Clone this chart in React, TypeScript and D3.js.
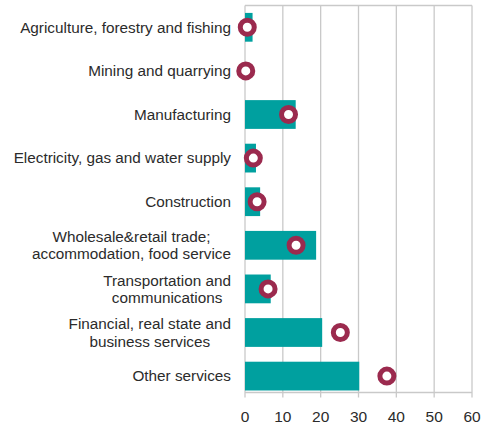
import { useEffect, useRef } from 'react';
import * as d3 from 'd3';

const categories = [
  'Agriculture, forestry and fishing',
  'Mining and quarrying',
  'Manufacturing',
  'Electricity, gas and water supply',
  'Construction',
  'Wholesale&retail trade;\naccommodation, food service',
  'Transportation and\ncommunications',
  'Financial, real state and\nbusiness services',
  'Other services',
];

// bars (teal) and markers (crimson rings)
const barValues = [2.0, 0, 13.4, 2.9, 4.0, 18.8, 6.8, 20.4, 30.2];
const markerValues = [0.6, 0.2, 11.5, 2.2, 3.2, 13.5, 6.1, 25.2, 37.5];

const xTicks = [0, 10, 20, 30, 40, 50, 60];

const W = 485;
const H = 428;
const plot = { left: 245, right: 472, top: 5.5, bottom: 392.5 };

export default function App() {
  const svgRef = useRef<SVGSVGElement>(null);

  useEffect(() => {
    if (!svgRef.current) return;
    const svg = d3.select(svgRef.current);
    svg.selectAll('*').remove();

    const x = d3.scaleLinear().domain([0, 60]).range([plot.left, plot.right]);
    const y = d3
      .scaleBand<string>()
      .domain(categories)
      .range([5.5, 397.9])
      .paddingInner(0.34)
      .paddingOuter(0.17);

    const grid = '#c9c9c9';
    const textColor = '#2b2b2b';
    const g = svg.append('g');

    // vertical gridlines + ticks
    g.selectAll('.grid')
      .data(xTicks)
      .enter()
      .append('line')
      .attr('x1', d => x(d))
      .attr('x2', d => x(d))
      .attr('y1', plot.top)
      .attr('y2', plot.bottom + 5)
      .style('stroke', grid)
      .style('stroke-width', '1.3px');

    // top + bottom lines
    [plot.top, plot.bottom].forEach(yy => {
      g.append('line')
        .attr('x1', plot.left)
        .attr('x2', plot.right)
        .attr('y1', yy)
        .attr('y2', yy)
        .style('stroke', grid)
        .style('stroke-width', '1.3px');
    });

    // bars
    g.selectAll('.bar')
      .data(categories)
      .enter()
      .append('rect')
      .attr('x', x(0))
      .attr('y', d => y(d)!)
      .attr('width', (_, i) => x(barValues[i]) - x(0))
      .attr('height', y.bandwidth())
      .style('fill', '#00a09f');

    // markers
    g.selectAll('.marker')
      .data(categories)
      .enter()
      .append('circle')
      .attr('cx', (_, i) => x(markerValues[i]))
      .attr('cy', d => y(d)! + y.bandwidth() / 2)
      .attr('r', 7)
      .style('fill', '#fff')
      .style('stroke', '#9b2a4e')
      .style('stroke-width', '5px');

    // x tick labels
    g.selectAll('.tick-label')
      .data(xTicks)
      .enter()
      .append('text')
      .attr('x', d => x(d))
      .attr('y', 417)
      .attr('dy', '0.35em')
      .style('text-anchor', 'middle')
      .style('font-size', '15.5px')
      .style('fill', textColor)
      .text(d => d);

    // category labels: block right-aligned, lines centered within block
    const labelRight = 231;
    const lineH = 17.5;
    categories.forEach(c => {
      const lines = c.split('\n');
      const cy = y(c)! + y.bandwidth() / 2;
      const t = g
        .append('text')
        .style('font-size', '15.3px')
        .style('fill', textColor)
        .style('text-anchor', lines.length > 1 ? 'middle' : 'end');
      lines.forEach((ln, k) => {
        t.append('tspan')
          .attr('x', labelRight)
          .attr('y', cy + (k - (lines.length - 1) / 2) * lineH)
          .attr('dy', '0.35em')
          .text(ln);
      });
      if (lines.length > 1) {
        let maxW = 0;
        t.selectAll<SVGTSpanElement, unknown>('tspan').each(function () {
          maxW = Math.max(maxW, this.getComputedTextLength());
        });
        t.selectAll('tspan').attr('x', labelRight - maxW / 2);
      }
    });
  }, []);

  return (
    <svg
      ref={svgRef}
      width={W}
      height={H}
      style={{
        position: 'absolute',
        left: 0,
        top: 0,
        background: '#fff',
        fontFamily: '"Liberation Sans", Arial, sans-serif',
      }}
    />
  );
}
